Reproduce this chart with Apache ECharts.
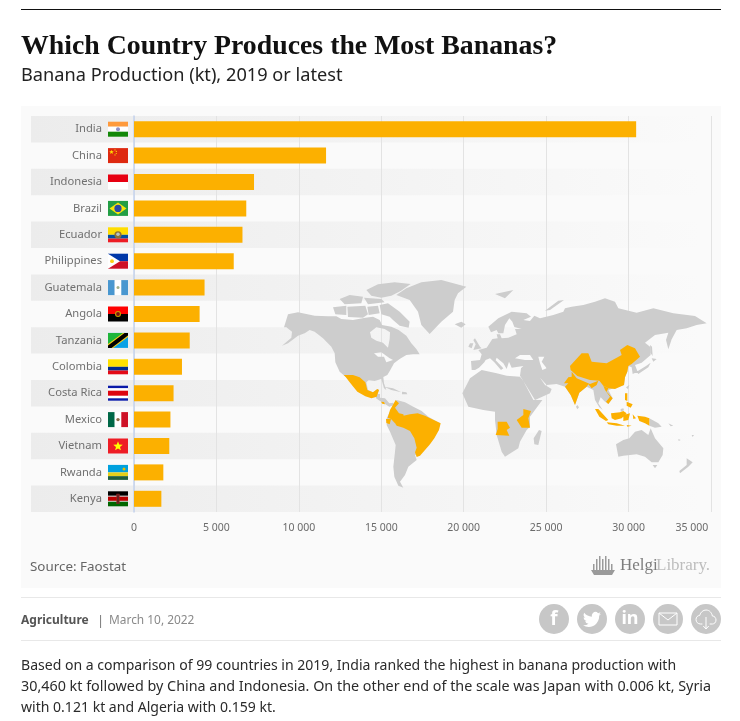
<!DOCTYPE html>
<html>
<head>
<meta charset="utf-8">
<style>html,body{margin:0;padding:0;background:#fff}#c{width:740px;height:721px}</style>
<script src="https://cdn.jsdelivr.net/npm/echarts@6/dist/echarts.min.js"></script>
</head>
<body>
<div id="c"></div>
<script>
// ---------- data ----------
const countries = ['India','China','Indonesia','Brazil','Ecuador','Philippines','Guatemala','Angola','Tanzania','Colombia','Costa Rica','Mexico','Vietnam','Rwanda','Kenya'];
const production = [30460,11650,7280,6810,6580,6050,4280,3980,3380,2910,2400,2210,2140,1780,1660];
const tickValues = [0,5000,10000,15000,20000,25000,30000,35000];
const highlighted = ['India','China','Indonesia','Brazil','Ecuador','Philippines','Angola','Tanzania','Colombia','CostaRica','Mexico','Vietnam'];
const titleText = 'Which Country Produces the Most Bananas?';
const subtitleText = 'Banana Production (kt), 2019 or latest';
const sourceText = 'Source: Faostat';
const paragraph = [
  'Based on a comparison of 99 countries in 2019, India ranked the highest in banana production with',
  '30,460 kt followed by China and Indonesia. On the other end of the scale was Japan with 0.006 kt, Syria',
  'with 0.121 kt and Algeria with 0.159 kt.'
];
const ORANGE = '#fcb000', LAND = '#cdcdcd', BODY = '"Noto Sans", sans-serif';

// ---------- decorative outline map (hand traced, not data) ----------
const P = (ox, oy, s) => s.trim().split(/\s+/).map(t => { const [a, b] = t.split(',').map(Number); return [ox + a / 3, -(oy + b / 3)]; });
const Z3 = s => P(270, 270, s), Z8 = s => P(278, 275, s), Z9 = s => P(375, 395, s), Z10 = s => P(455, 305, s), Z11 = s => P(540, 290, s), Z12 = s => P(580, 385, s);
const landRegions = {
  Land: [
    [Z8('18,157 30,118 60,112 110,122 150,124 175,124 190,132 225,135 262,128 285,125 305,135 312,150 340,155 362,165 385,182 400,205 415,222 425,238 405,238 385,240 365,252 348,265 337,285 328,300 316,306 318,325 325,345 318,340 310,312 290,318 272,316 265,322 270,345 285,352 298,342 303,345 296,365 280,368 262,358 240,345 220,320 200,303 185,290 172,262 170,235 160,215 135,190 110,170 95,165 80,175 60,182 30,205 12,212 40,188 42,170 25,157'),
      Z8('276,172 295,157 320,162 336,172 335,192 330,218 315,203 295,197 280,188'),
      Z8('288,235 310,232 335,250 345,255 325,262 318,245 300,245')],
    [Z8('265,45 300,28 350,22 398,27 368,48 340,62 310,68 280,62')],
    [Z8('165,97 205,92 205,120 172,118')],
    [Z8('185,72 215,60 255,65 250,85 200,88')],
    [Z8('208,95 262,92 270,118 255,128 210,126')],
    [Z8('258,68 310,72 320,82 270,88')],
    [Z8('268,95 300,92 305,115 272,120')],
    [Z8('305,90 330,85 365,110 395,140 392,158 365,152 345,135 335,125 310,118')],
    [Z8('355,60 385,40 430,22 490,15 565,35 540,55 530,75 525,110 490,140 455,177 430,150 420,110 395,75')],
    [Z8('530,148 550,140 563,148 550,158')],
    [Z8('318,335 345,340 370,352 340,345')],
    [Z8('372,350 385,352 388,358 372,358')],
    [Z3('316,372 330,372 330,383 345,385 358,400 370,398 372,405 358,410 345,402 330,393 318,385')],
    [Z9('35,70 50,40 65,15 90,22 115,35 140,48 160,65 195,85 190,105 165,140 135,175 120,180 125,195 100,215 90,240 75,260 85,278 70,272 58,245 55,215 60,170 62,150 45,110 35,90')],
    [Z10('22,265 45,220 80,195 125,205 155,212 195,215 205,228 235,285 262,285 225,335 225,365 215,375 195,410 190,430 150,455 140,440 125,390 120,345 120,320 85,315 40,305')],
    [Z10('252,375 260,378 250,420 238,418 236,400')],
    [[...Z10('50,195 48,168 75,165 80,148 70,135 95,128 112,102 128,100 125,88 135,88 140,100 160,98 185,88 180,72 200,72 178,66 172,50 163,40 150,60 145,85 130,85 125,75 108,82 100,65 130,40 170,20 215,25 228,35 205,45 225,48 238,32'),
      ...Z11('0,85 40,75 70,65 75,55 95,50 130,45 165,35 195,25 225,35 235,55 290,68 340,55 400,70 465,78 500,100 470,105 440,115 410,120 395,148 385,178 378,150 385,128 345,135 315,158 330,170 332,195 305,218 285,225 293,245 278,252 275,232 265,228 262,245 255,262 252,285 205,300 218,325 205,342 195,335 182,322 175,340 188,360 178,352 165,330 160,300 140,290 118,308 105,345 92,315 75,290 50,282'),
      ...Z10('275,240 255,218 270,240 290,252 285,265 240,285 205,228 195,212 198,190 205,183 170,188 162,170 155,192 145,175 125,158 122,166 145,190 138,195 118,172 105,160 92,165 88,172 72,188 60,195')],
      Z10('180,160 195,150 225,150 235,165 210,165'),
      Z10('250,155 268,155 260,170 275,190 262,195 255,175')],
    [Z10('60,100 75,125 80,130 55,135 62,118 55,105')],
    [Z10('45,115 55,115 50,130 40,125')],
    [Z11('15,62 55,32 72,30 30,60')],
    [Z3('675,72 730,60 705,85')],
    [Z11('330,165 336,170 338,198 332,190')],
    [Z11('335,205 350,207 340,215')],
    [Z11('332,218 325,232 295,252 290,245 318,228')],
    [Z11('268,285 264,298 258,292')],
    [Z11('112,345 117,352 112,358 108,350')],
    [Z12('122,72 130,70 132,76 122,80')],
    [Z12('208,100 235,115 245,125 225,128 208,122')],
    [Z12('108,178 130,165 148,160 165,140 185,135 205,150 212,130 225,160 250,190 248,210 235,232 215,232 195,215 170,208 130,212 115,215')],
    [Z12('218,240 232,240 225,250')],
    [Z12('320,220 338,232 325,245 300,265 298,258 320,240')],
    [Z12('265,115 280,122 272,124')], [Z12('295,162 302,165 296,168')], [Z12('335,150 342,150 338,156')]
  ],
  China: [[Z11('90,228 125,190 145,190 155,215 200,220 245,195 240,180 262,165 285,175 300,200 275,222 265,228 262,245 255,262 252,285 225,297 205,295 190,287 178,272 150,270 112,258 92,240')]],
  India: [[Z11('95,245 110,265 150,282 175,272 170,285 155,295 145,283 140,290 118,308 105,345 92,315 75,290 85,280 72,280 85,262 95,260')]],
  Vietnam: [[Z11('190,287 205,295 200,305 218,325 205,342 198,335 210,320 195,300')]],
  Philippines: [[Z12('135,25 142,25 142,48 135,45')], [Z12('140,50 158,58 152,68 140,62')]],
  Indonesia: [[Z12('45,72 55,72 85,105 78,108 58,95')], [Z12('80,112 110,115 135,122 110,122 85,118')], [Z12('93,85 120,82 130,78 140,85 125,100 105,105 95,100')], [Z12('130,90 150,85 145,105 130,108')], [Z12('158,88 168,100 160,102')], [Z12('172,92 195,95 208,100 208,122 195,115 178,108')], [Z12('140,120 155,122 142,125')]],
  Brazil: [[Z9('60,85 80,82 85,62 105,58 128,55 150,62 165,70 197,85 192,105 178,130 165,148 150,165 135,182 125,186 120,172 125,158 118,130 105,108 85,98 65,92')]],
  Colombia: [[Z9('38,68 45,45 62,15 72,25 60,38 72,55 85,58 88,70 80,85 60,85 48,72')]],
  Ecuador: [[Z9('33,72 48,72 44,88 34,84')]],
  Mexico: [[Z8('197,300 225,300 245,307 262,322 268,345 285,352 298,342 303,345 296,365 280,370 262,364 238,350 215,322 203,306')]],
  CostaRica: [[Z3('333,395 342,396 345,403 337,401')]],
  Angola: [[Z10('128,350 155,350 165,368 155,375 163,392 122,390 128,372')]],
  Tanzania: [[Z10('205,312 228,318 220,340 225,368 200,368 185,345 205,330')]]
};
const signedArea = r => r.reduce((a, p, i) => { const q = r[(i + 1) % r.length]; return a + p[0] * q[1] - q[0] * p[1]; }, 0);
const orient = (r, ccw) => (signedArea(r) > 0) === ccw ? r : r.slice().reverse();
echarts.registerMap('banana-world', {
  type: 'FeatureCollection',
  features: Object.keys(landRegions).map(name => ({
    type: 'Feature', properties: { name },
    geometry: { type: 'MultiPolygon', coordinates: landRegions[name].map(poly => poly.map((ring, i) => { const c = orient(ring, i === 0); return c.concat([c[0]]); })) }
  }))
});

// ---------- flags, in a 20x15 box ----------
const star = (cx, cy, R, col) => { const p = []; for (let i = 0; i < 10; i++) { const a = -Math.PI / 2 + i * Math.PI / 5, r = i % 2 ? R * 0.42 : R; p.push([cx + r * Math.cos(a), cy + r * Math.sin(a)]); } return ['p', p, col]; };
const flagShapes = {
  India: [['r',0,0,20,5,'#ff9a3c'],['r',0,5,20,5,'#ffffff'],['r',0,10,20,5,'#138808'],['c',10,7.5,2,'#8f8fc8']],
  China: [['r',0,0,20,15,'#de2910'],star(3.5,4,2.4,'#ffde00'),['c',7,1.8,.6,'#ffde00'],['c',8.3,3.3,.6,'#ffde00'],['c',8.3,5.4,.6,'#ffde00'],['c',7,6.8,.6,'#ffde00']],
  Indonesia: [['r',0,0,20,7.5,'#e70011'],['r',0,7.5,20,7.5,'#ffffff']],
  Brazil: [['r',0,0,20,15,'#229e45'],['p',[[10,1.5],[18.5,7.5],[10,13.5],[1.5,7.5]],'#f8e509'],['c',10,7.5,3.6,'#2b49a3']],
  Ecuador: [['r',0,0,20,7.5,'#ffdd00'],['r',0,7.5,20,3.75,'#034ea2'],['r',0,11.25,20,3.75,'#ed1c24'],['c',10,7.5,3.6,'#8c7238'],['c',10,7,1.8,'#b9c4c8']],
  Philippines: [['r',0,0,20,7.5,'#0038a8'],['r',0,7.5,20,7.5,'#ce1126'],['p',[[0,0],[12,7.5],[0,15]],'#ffffff'],['c',4,7.5,1.9,'#fcd116']],
  Guatemala: [['r',0,0,6.7,15,'#4997d0'],['r',6.7,0,6.6,15,'#ffffff'],['r',13.3,0,6.7,15,'#4997d0'],['c',10,7.5,1.5,'#a3b18a']],
  Angola: [['r',0,0,20,7.5,'#ff0000'],['r',0,7.5,20,7.5,'#000000'],['c',10,7.5,3,'#c9a400'],['c',10,7.5,1.9,'#7d1010']],
  Tanzania: [['r',0,0,20,15,'#0aa1e6'],['p',[[0,0],[20,0],[0,15]],'#1eb53a'],['p',[[0,15],[0,11],[15,0],[20,0],[20,4],[5,15]],'#fcd116'],['p',[[0,15],[0,12.5],[16.5,0],[20,0],[20,2.5],[3.5,15]],'#000000']],
  Colombia: [['r',0,0,20,7.5,'#ffe000'],['r',0,7.5,20,3.75,'#002a8f'],['r',0,11.25,20,3.75,'#e30a17']],
  'Costa Rica': [['r',0,0,20,15,'#ffffff'],['r',0,0,20,2.4,'#0a1aa8'],['r',0,5,20,5,'#dd0510'],['r',0,12.6,20,2.4,'#0a1aa8']],
  Mexico: [['r',0,0,6.7,15,'#006847'],['r',6.7,0,6.6,15,'#ffffff'],['r',13.3,0,6.7,15,'#ce1126'],['c',10,7.5,1.7,'#8c6b46']],
  Vietnam: [['r',0,0,20,15,'#ee1c25'],star(10,7.8,5,'#ffff00')],
  Rwanda: [['r',0,0,20,7.5,'#00a1de'],['r',0,7.5,20,3.75,'#e5d01a'],['r',0,11.25,20,3.75,'#20603d'],['c',16,4,1.5,'#e5be01']],
  Kenya: [['r',0,0,20,4.5,'#000000'],['r',0,4.5,20,.9,'#cccccc'],['r',0,5.4,20,4.2,'#bb0000'],['r',0,9.6,20,.9,'#cccccc'],['r',0,10.5,20,4.5,'#006600'],['r',8.4,2.5,3.2,10,'#a02020'],['r',9.6,2.5,.8,10,'#222222']]
};
const flagChild = (s) => {
  if (s[0] === 'r') return { type: 'rect', shape: { x: s[1], y: s[2], width: s[3], height: s[4] }, style: { fill: s[5] } };
  if (s[0] === 'p') return { type: 'polygon', shape: { points: s[1] }, style: { fill: s[2] } };
  return { type: 'circle', shape: { cx: s[1], cy: s[2], r: s[3] }, style: { fill: s[4] } };
};

// ---------- chart ----------
const chart = echarts.init(document.getElementById('c'), null, { renderer: 'canvas' });
const txt = (x, y, text, font, fill) => ({ type: 'text', x, y, z: 5, silent: true, style: { text, font, fill, verticalAlign: 'middle' } });
const line = (y, c, w) => ({ type: 'rect', z: 5, silent: true, shape: { x: 21, y, width: 700, height: w || 1 }, style: { fill: c } });
const icon = (cx) => ({ type: 'circle', z: 5, silent: true, shape: { cx, cy: 619, r: 15 }, style: { fill: '#c7c7c7' } });
const pathIcon = (d, x, y, w, h, style) => ({ type: 'path', shape: { pathData: d, layout: 'cover', x, y, width: w, height: h }, style });
const logoBars = [[593,564,1.5,6],[596,559,1.5,11],[599,556,1.5,14],[602,559,1.5,11],[605,556,1.5,14],[608,559,1.5,11],[611,564,1.5,6]].map(b => ({ type: 'rect', z: 5, silent: true, shape: { x: b[0], y: b[1], width: b[2], height: b[3] }, style: { fill: '#9a9a9a' } }));

chart.setOption({
  animation: false,
  backgroundColor: '#ffffff',
  grid: { left: 134, right: 29, top: 116, bottom: 209, containLabel: false },
  xAxis: {
    type: 'value', min: 0, max: 35000, interval: 5000,
    axisLine: { show: false }, axisTick: { show: false },
    splitLine: { show: true, lineStyle: { color: '#e3e3e3', width: 1 } },
    axisLabel: {
      margin: 11, alignMaxLabel: 'right',
      color: '#6a6a6a', fontFamily: BODY, fontSize: 10.5,
      formatter: v => (tickValues.includes(v) ? (v === 0 ? '0' : Math.floor(v / 1000) + ' 000') : '') + (v === 35000 ? ' ' : '')
    }
  },
  yAxis: {
    type: 'category', data: countries, inverse: true,
    axisLine: { show: true, lineStyle: { color: '#c5d3ee', width: 1.5 } }, axisTick: { show: false },
    splitLine: { show: false },
    axisLabel: { margin: 32, color: '#707070', fontFamily: BODY, fontSize: 11.2, padding: [2, 0, 0, 0] }
  },
  geo: {
    map: 'banana-world', roam: false, silent: true, z: 1,
    aspectScale: 1,
    boundingCoords: [[280, -278], [712, -490]],
    left: 280, top: 278, width: 432, height: 212,
    label: { show: false },
    itemStyle: { areaColor: LAND, borderWidth: 0 },
    emphasis: { disabled: true },
    regions: highlighted.map(name => ({ name, itemStyle: { areaColor: ORANGE, borderWidth: 0 } }))
  },
  series: [
    {
      type: 'custom', name: 'rows', z: -1, silent: true, clip: false,
      coordinateSystem: 'cartesian2d',
      data: countries.map((c, i) => [0, i]),
      encode: { x: 0, y: 1 },
      renderItem: (params, api) => {
        const i = api.value(1);
        if (i % 2) return;
        const c = api.coord([0, i]), h = api.size([0, 1])[1];
        return {
          type: 'rect', shape: { x: 31, y: c[1] - h / 2, width: 670, height: h },
          style: { fill: new echarts.graphic.LinearGradient(0, 0, 1, 0, [{ offset: 0, color: '#ececec' }, { offset: 1, color: '#fafafa' }]) }
        };
      }
    },
    {
      type: 'bar', name: 'Banana Production (kt)', data: production, barWidth: 16, z: 3,
      itemStyle: { color: ORANGE }
    },
    {
      type: 'custom', name: 'flags', z: 4, silent: true, clip: false,
      coordinateSystem: 'cartesian2d',
      data: countries.map((c, i) => [0, i]),
      encode: { x: 0, y: 1 },
      renderItem: (params, api) => {
        const i = api.value(1), c = api.coord([0, i]);
        return { type: 'group', x: c[0] - 26, y: c[1] - 7.5, children: flagShapes[countries[i]].map(flagChild) };
      }
    },
    {
      type: 'custom', name: 'icons', z: 6, silent: true, clip: false,
      coordinateSystem: 'none', data: [[0]],
      renderItem: () => ({ type: 'group', children: [
        pathIcon('M0 0 L24 0 L21 5 L3 5 Z', 591, 570, 24, 5, { fill: '#9a9a9a' }),
        pathIcon('M23.95 4.57a10 10 0 0 1-2.82.77 4.96 4.96 0 0 0 2.16-2.72 9.9 9.9 0 0 1-3.13 1.19 4.92 4.92 0 0 0-8.38 4.48A14 14 0 0 1 1.64 3.16a4.92 4.92 0 0 0 1.52 6.57 4.9 4.9 0 0 1-2.23-.61v.06a4.92 4.92 0 0 0 3.95 4.83 5 5 0 0 1-2.21.08 4.94 4.94 0 0 0 4.6 3.42A9.87 9.87 0 0 1 0 19.54a14 14 0 0 0 7.56 2.21c9.05 0 14-7.5 14-13.98 0-.21 0-.42-.02-.63a10 10 0 0 0 2.46-2.55z', 583, 612, 18, 15, { fill: '#fff' }),
        pathIcon('M0 0 H18 V12 H0 Z M0 0 L9 7 L18 0', 659, 613, 18, 12, { fill: 'none', stroke: '#fff', lineWidth: 1 }),
        pathIcon('M7 15 H5 C2 15 0 13 0 10.5 C0 8 2 6.5 4 6.5 C5 3 8 1 11 1 C15 1 17.5 4 18 7 C20.5 7 22 9 22 11 C22 13.5 20 15 18 15 H15 M11 8 V20 M8 17 L11 20 L14 17', 696, 610, 20, 19, { fill: 'none', stroke: '#fff', lineWidth: 1 })
      ]})
    }
  ],
  graphic: { elements: [
    { type: 'rect', z: -10, silent: true, shape: { x: 21, y: 106, width: 700, height: 482 }, style: { fill: '#fafafa' } },
    line(9, '#111111', 1), line(597, '#e8e8e8'), line(640, '#e8e8e8'),
    txt(21, 47, titleText, 'bold 27.8px "Liberation Serif", serif', '#111111'),
    txt(21, 76, subtitleText, '18.2px ' + BODY, '#222222'),
    txt(30, 567, sourceText, '13.4px ' + BODY, '#666666'),
    txt(21, 621, 'Agriculture', 'bold 12px ' + BODY, '#555555'),
    txt(97, 621, '|', '13px ' + BODY, '#777777'),
    txt(109, 621, 'March 10, 2022', '11.9px ' + BODY, '#8a8a8a'),
    txt(21, 666, paragraph[0], '14.05px ' + BODY, '#2b2b2b'),
    txt(21, 687, paragraph[1], '14.35px ' + BODY, '#2b2b2b'),
    txt(21, 708, paragraph[2], '14.05px ' + BODY, '#2b2b2b'),
    txt(620, 566, 'Helgi', '17px "Liberation Serif", serif', '#7d7d7d'),
    txt(656, 566, 'Library.', '17px "Liberation Serif", serif', '#bdbdbd'),
    ...logoBars,
    icon(554), icon(592), icon(630), icon(668), icon(706),
    { type: 'text', z: 6, silent: true, x: 554, y: 620, style: { text: 'f', font: 'bold 19px ' + BODY, fill: '#fff', align: 'center', verticalAlign: 'middle' } },
    { type: 'text', z: 6, silent: true, x: 630, y: 619, style: { text: 'in', font: 'bold 18px ' + BODY, fill: '#fff', align: 'center', verticalAlign: 'middle' } }
  ]}
});
</script>
</body>
</html>
